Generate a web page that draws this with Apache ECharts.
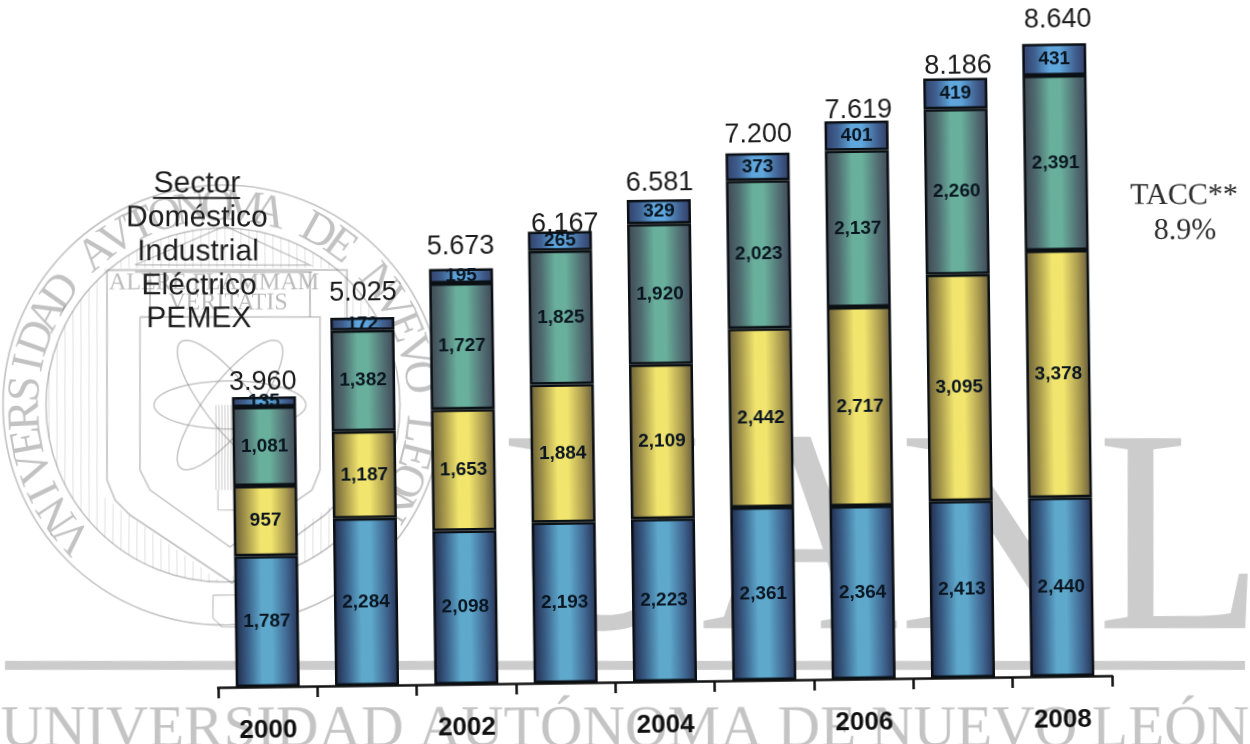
<!DOCTYPE html>
<html><head><meta charset="utf-8">
<style>
html,body{margin:0;padding:0;background:#fff;width:1250px;height:744px;overflow:hidden}
#c{position:absolute;left:-20px;top:-20px;width:1290px;height:784px;transform-origin:645px 392px;transform:rotate(-0.75deg);filter:blur(0.4px)}
</style>
<script src="https://cdn.jsdelivr.net/npm/echarts@6/dist/echarts.min.js"></script>
</head><body><div id="c"></div>
<script>
const years = ['2000','2001','2002','2003','2004','2005','2006','2007','2008'];
const pemex = [1787,2284,2098,2193,2223,2361,2364,2413,2440];
const electrico = [957,1187,1653,1884,2109,2442,2717,3095,3378];
const industrial = [1081,1382,1727,1825,1920,2023,2137,2260,2391];
const domestico = [135,172,195,265,329,373,401,419,431];
const totals = [3960,5025,5673,6167,6581,7200,7619,8186,8640];
const legendTitle = 'Sector';
const legendItems = ['Doméstico','Industrial','Eléctrico','PEMEX'];
const totalNudgeX = [-1,1,0,5,1,1,2,3,4];
const totalNudgeY = [5,-6,-3,12,2,1,8,7,-5];

const OX = 20, OY = 20, ANG = 0.75*Math.PI/180;
const grad = (a,m,b,c,d) => new echarts.graphic.LinearGradient(0,0,1,0,[
  {offset:0,color:a},{offset:0.2,color:m},{offset:0.42,color:b},{offset:0.58,color:b},{offset:0.82,color:c},{offset:1,color:d}]);
const fmt = p => p.value.toLocaleString('en-US');
function barSeries(name,data,col){
  return {name,type:'bar',stack:'t',data,barWidth:64,
    itemStyle:{color:col,borderColor:'#0b1014',borderWidth:2.5},
    label:{show:true,position:'inside',formatter:fmt,fontFamily:'Liberation Sans',fontWeight:'bold',fontSize:19,color:'#0a1520'}};
}
const WM = 'rgba(115,115,115,0.36)', WL = 'rgba(120,120,120,0.42)';
const SCX = 223, SCY = 405;
const wm = [];
function line(x1,y1,x2,y2,w,c){wm.push({type:'line',shape:{x1,y1,x2,y2},style:{stroke:c||WL,lineWidth:w||1}});}
function poly(points,w,c){wm.push({type:'polyline',shape:{points},style:{stroke:c||WL,lineWidth:w||1.5,fill:'none'}});}
function ell(cx,cy,rx,ry,rotDeg,w){
  const p=[],r=rotDeg*Math.PI/180;
  for(let i=0;i<=60;i++){const t=i/60*2*Math.PI,x=rx*Math.cos(t),y=ry*Math.sin(t);
    p.push([cx+x*Math.cos(r)-y*Math.sin(r),cy+x*Math.sin(r)+y*Math.cos(r)]);}
  poly(p,w);
}
// UANL big letters
wm.push({type:'text',x:503,y:697,scaleX:0.945,style:{text:'UANL',font:'290px "Liberation Serif"',fill:WM,textAlign:'left',textVerticalAlign:'bottom'},
  originX:0,originY:0});
// band and bottom text
wm.push({type:'rect',shape:{x:5,y:661,width:1240,height:9},style:{fill:WM}});
wm.push({type:'text',x:625,y:760,style:{text:'UNIVERSIDAD AUTÓNOMA DE NUEVO LEÓN',font:'59px "Liberation Serif"',fill:'rgba(115,115,115,0.42)',textAlign:'center',textVerticalAlign:'bottom'}});
// seal rings
[220,177].forEach((r,i)=>wm.push({type:'circle',shape:{cx:SCX,cy:SCY,r},style:{stroke:WL,lineWidth:1.7,fill:'none'}}));
// seal arc text
const sealText='VNIVERSIDAD AVTONOMA DE NVEVO LEON';
const a0=-131,a1=120;
[...sealText].forEach((ch,i)=>{
  const a=(a0+(a1-a0)*i/(sealText.length-1))*Math.PI/180;
  wm.push({type:'text',x:SCX+197*Math.sin(a),y:SCY-197*Math.cos(a),rotation:-a,
    style:{text:ch,font:'46px "Liberation Serif"',fill:'rgba(120,120,120,0.45)',textAlign:'center',textVerticalAlign:'middle'}});
});
// hatching
const shieldBottom=dx=>583-Math.abs(dx)*0.72;
for(let x=SCX-174;x<=SCX+174;x+=8){
  const dx=x-SCX,h=Math.sqrt(177*177-dx*dx);
  if(Math.abs(dx)>118){line(x,SCY-h,x,SCY+h,0.8,'rgba(120,120,120,0.28)');}
  else{line(x,SCY-h,x,268,0.8,'rgba(120,120,120,0.28)');line(x,shieldBottom(dx),x,SCY+h,0.8,'rgba(120,120,120,0.28)');}
}
// shield
poly([[107,270],[347,270],[347,480],[340,500],[325,515],[232,583],[130,515],[115,500],[107,480],[107,270]],1.8);
poly([[140,317],[320,317],[320,470],[312,490],[230,547],[150,490],[140,470],[140,317]],1.6);
// temple
poly([[135,265],[225,226],[310,265],[135,265]],1.5);
line(135,272,312,272,2);
line(150,272,150,317,2);line(310,272,310,317,2);
wm.push({type:'text',x:214,y:283,style:{text:'ALERE FLAMMAM',font:'24px "Liberation Serif"',fill:'rgba(120,120,120,0.5)',textAlign:'center',textVerticalAlign:'middle'}});
wm.push({type:'text',x:228,y:303,style:{text:'VERITATIS',font:'24px "Liberation Serif"',fill:'rgba(120,120,120,0.5)',textAlign:'center',textVerticalAlign:'middle'}});
// atom
ell(230,405,76,24,0,1.5);ell(230,405,80,24,52,1.5);ell(230,405,80,24,-52,1.5);
// column and base
for(let x=216;x<=234;x+=3)line(x,405,x,490,0.9);
poly([[218,490],[218,510],[255,510]],1.3);
poly([[213,595],[235,595],[245,605],[245,618],[235,627],[222,627],[213,618],[213,595]],1.3);

// foreground texts
const fg = [];
const lx=[197,198,199,199], ly=[218,252,286,319];
const F='30px "Liberation Sans"';
fg.push({type:'text',x:197,y:184,style:{text:legendTitle,font:F,fill:'#1c1c1c',textAlign:'center',textVerticalAlign:'middle'}});
fg.push({type:'line',shape:{x1:153,y1:198,x2:240,y2:198},style:{stroke:'#1c1c1c',lineWidth:2}});
legendItems.forEach((t,i)=>fg.push({type:'text',x:lx[i],y:ly[i],style:{text:t,font:F,fill:'#1c1c1c',textAlign:'center',textVerticalAlign:'middle'}}));
fg.push({type:'text',x:1184,y:196,style:{text:'TACC**',font:'30px "Liberation Serif"',fill:'#2c2c2c',textAlign:'center',textVerticalAlign:'middle'}});
fg.push({type:'text',x:1185,y:231,style:{text:'8.9%',font:'30px "Liberation Serif"',fill:'#2c2c2c',textAlign:'center',textVerticalAlign:'middle'}});

const chart = echarts.init(document.getElementById('c'),null,{renderer:'canvas'});
chart.setOption({
  animation:false,
  backgroundColor:'transparent',
  grid:{left:214+OX,right:1290-(1108+OX),top:23+OY,bottom:784-(682+OY)},
  xAxis:{type:'category',data:years,
    axisLine:{lineStyle:{color:'#111',width:2.5}},
    axisTick:{show:true,alignWithLabel:false,interval:0,length:11,lineStyle:{color:'#111',width:2.5}},
    axisLabel:{interval:1,margin:31,fontFamily:'Liberation Sans',fontWeight:'bold',fontSize:26,color:'#111'}},
  yAxis:{type:'value',min:0,max:9000,show:false,splitLine:{show:false}},
  series:[
    barSeries('PEMEX',pemex,grad('#202848','#3a6088','#5ea8cc','#3f6690','#262e50')),
    barSeries('Eléctrico',electrico,grad('#665a36','#a89a4c','#f2e56e','#ac9d50','#65593a')),
    barSeries('Industrial',industrial,grad('#3f4650','#4f6c70','#69b09c','#527074','#3f4656')),
    barSeries('Doméstico',domestico,grad('#323f68','#3f6090','#5ea6dc','#416292','#323a62')),
    {name:'Total',type:'line',symbol:'circle',symbolSize:1,itemStyle:{color:'transparent'},lineStyle:{opacity:0},z:5,
     data:totals.map((v,i)=>({value:v,label:{offset:[totalNudgeX[i],totalNudgeY[i]]}})),
     label:{show:true,position:'top',distance:5,formatter:p=>(p.value/1000).toFixed(3),
       fontFamily:'Liberation Sans',fontSize:27,color:'#1c1c1c'}}
  ],
  graphic:{elements:[
    {type:'group',x:OX,y:OY,originX:625,originY:372,rotation:-ANG,z:50,silent:true,children:wm},
    {type:'group',x:OX,y:OY,originX:625,originY:372,rotation:-ANG,z:60,silent:true,children:fg}
  ]}
});
</script></body></html>
